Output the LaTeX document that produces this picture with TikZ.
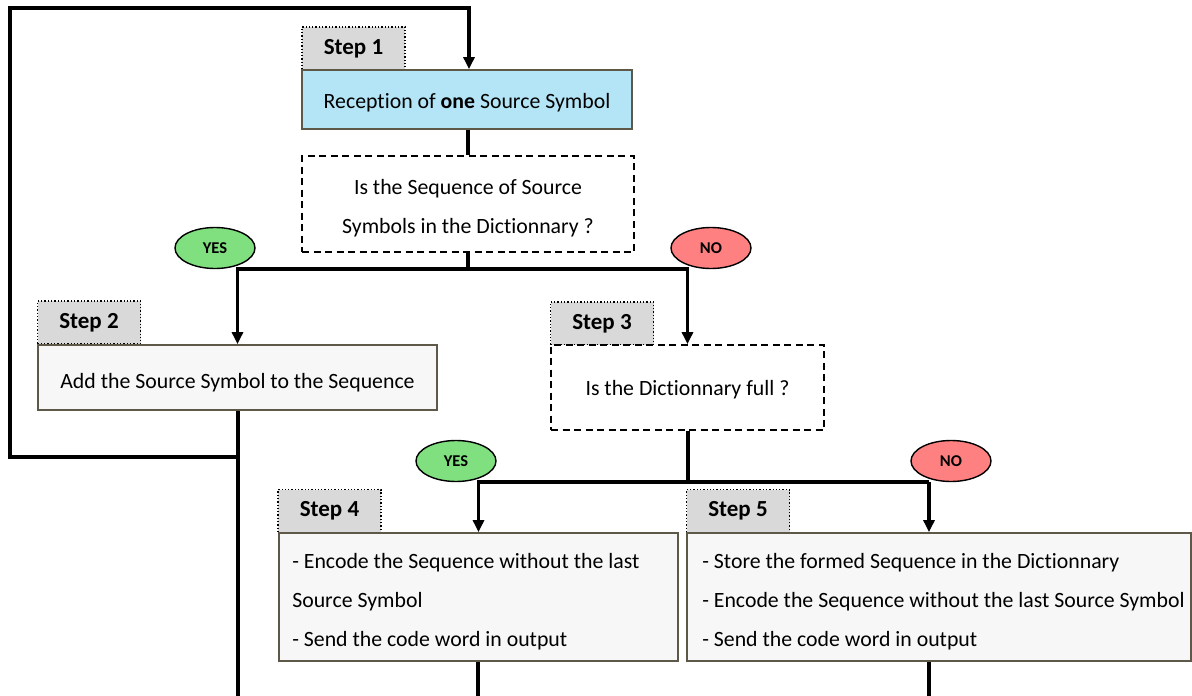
\documentclass[tikz,border=0pt]{standalone}
\usepackage{fontspec}
\setmainfont{Carlito}[Ligatures=NoCommon]
\usetikzlibrary{arrows.meta,shapes.geometric,calc}
\definecolor{bordc}{HTML}{5E5848}
\definecolor{boxf}{HTML}{F7F7F7}
\definecolor{bluef}{HTML}{B3E5F6}
\definecolor{lblgray}{HTML}{D9D9D9}
\definecolor{yesg}{HTML}{80E080}
\definecolor{nor}{HTML}{FF8080}
\begin{document}
\begin{tikzpicture}[x=1pt,y=-1pt,
  conn/.style={line width=3.2pt, black},
  arr/.style={conn, -{Triangle[width=11pt,length=12pt]}},
  box/.style={draw=bordc, line width=1.8pt, fill=boxf, inner sep=0pt},
  qbox/.style={draw=black, line width=1.8pt, dash pattern=on 7pt off 4.5pt, fill=white, inner sep=0pt},
  txt/.style={inner sep=0pt, font=\fontsize{21.8}{39}\selectfont},
  steplbl/.style={draw=black, dotted, line width=1.3pt, fill=lblgray, minimum width=103pt, minimum height=43pt, inner sep=0pt, font=\fontsize{23}{26}\selectfont\bfseries},
  yesno/.style={ellipse, draw=black, line width=1.4pt, minimum width=80pt, minimum height=41pt, inner sep=0pt, font=\fontsize{16.5}{18}\selectfont\bfseries},
  yes/.style={yesno, fill=yesg},
  no/.style={yesno, fill=nor}
]
\useasboundingbox (0,0) rectangle (1192,696);

% step labels
\node[steplbl] (s1) at (353.5,48.5) {Step 1};
\node[steplbl] (s2) at (89,322.5) {Step 2};
\node[steplbl] (s3) at (602,323.5) {Step 3};
\node[steplbl] (s4) at (329.5,511) {Step 4};
\node[steplbl] (s5) at (738,511) {Step 5};

% boxes
\node[box, fill=bluef, minimum width=330pt, minimum height=59pt] (b1) at (467,99.5) {};
\node[qbox, minimum width=332pt, minimum height=96pt] (q1) at (468,204) {};
\node[box, minimum width=399pt, minimum height=65pt] (b2) at (237.5,377.5) {};
\node[qbox, minimum width=273pt, minimum height=85pt] (q2) at (687.5,387.5) {};
\node[box, minimum width=399pt, minimum height=128pt] (b4) at (478.5,597) {};
\node[box, minimum width=504pt, minimum height=128pt] (b5) at (939,597) {};

% texts
\node[txt] (t1) at ([yshift=-3pt]b1.center) {Reception of \textbf{one} Source Symbol};
\node[txt, align=center] (tq1) at ([yshift=-4pt]q1.center) {Is the Sequence of Source\\Symbols in the Dictionnary ?};
\node[txt] (t2) at ([yshift=-5pt]b2.center) {Add the Source Symbol to the Sequence};
\node[txt] (tq2) at ([yshift=-2pt]q2.center) {Is the Dictionnary full ?};
\node[txt, align=left, anchor=west] (t4) at ([xshift=14pt,yshift=-5pt]b4.west) {- Encode the Sequence without the last\\Source Symbol\\- Send the code word in output};
\node[txt, align=left, anchor=west] (t5) at ([xshift=16pt,yshift=-5pt]b5.west) {- Store the formed Sequence in the Dictionnary\\- Encode the Sequence without the last Source Symbol\\- Send the code word in output};

% yes/no
\node[yes] (y1) at (215,248) {YES};
\node[no] (n1) at (711,248) {NO};
\node[yes] (y2) at (456,461) {YES};
\node[no] (n2) at (951,461) {NO};

% coordinates
\coordinate (j1) at (468,269);
\coordinate (j2) at (688,482);
\coordinate (a5) at (929,482);
\coordinate (lp) at (238,457);
\coordinate (loopA) at (10,457);
\coordinate (loopB) at (10,8);
\coordinate (loopC) at (469,8);
\coordinate (o2) at (238,696);
\coordinate (o4) at (478,696);
\coordinate (o5) at (929,696);

% connectors
\draw[arr] (lp) -- (loopA) -- (loopB) -- (loopC) -- (loopC |- b1.north);
\draw[conn] (j1 |- b1.south) -- (j1 |- q1.north);
\draw[conn] (j1 |- q1.south) -- (j1);
\draw[arr] (j1) -| (b2.north);
\draw[arr] (j1) -| (q2.north);
\draw[conn] (o2 |- b2.south) -- (o2);
\draw[conn] (j2 |- q2.south) -- (j2);
\draw[arr] (j2) -| (b4.north);
\draw[conn] (j2) -- (a5);
\draw[arr] (a5) -- (a5 |- b5.north);
\draw[conn] (o4 |- b4.south) -- (o4);
\draw[conn] (a5 |- b5.south) -- (o5);
\end{tikzpicture}
\end{document}
